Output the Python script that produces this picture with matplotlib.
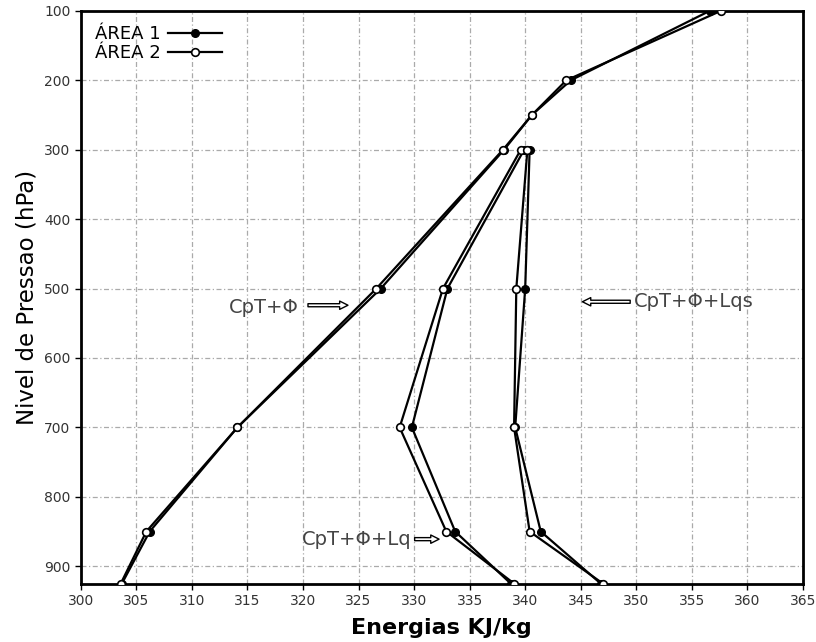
import numpy as np
import matplotlib.pyplot as plt
from matplotlib.lines import Line2D

# Pressure levels (hPa)
levels_full = [100, 200, 250, 300, 500, 700, 850, 925]
levels_q = [300, 500, 700, 850, 925]

# Energies (kJ/kg)
cpt_phi_a1 = [356.6, 344.1, 340.6, 338.1, 327.0, 314.1, 306.2, 303.7]
cpt_phi_a2 = [357.6, 343.7, 340.6, 338.0, 326.6, 314.1, 305.9, 303.6]
lq_a1 = [339.9, 333.0, 329.8, 333.7, 338.7]
lq_a2 = [339.6, 332.6, 328.7, 332.9, 339.0]
lqs_a1 = [340.4, 340.0, 339.1, 341.4, 346.8]
lqs_a2 = [340.2, 339.2, 339.0, 340.4, 347.0]

x_ticks = np.arange(300, 366, 5)
y_ticks = np.arange(100, 901, 100)

fig = plt.figure(figsize=(8.16, 6.42), dpi=100)
ax = fig.add_axes([0.099, 0.091, 0.885, 0.892])

style1 = dict(color='black', lw=1.6, marker='o', ms=5.5, mfc='black', mec='black', zorder=3)
style2 = dict(color='black', lw=1.6, marker='o', ms=5.5, mfc='white', mec='black', mew=1.2, zorder=3)

ax.plot(cpt_phi_a1, levels_full, **style1)
ax.plot(cpt_phi_a2, levels_full, **style2)
ax.plot(lq_a1, levels_q, **style1)
ax.plot(lq_a2, levels_q, **style2)
ax.plot(lqs_a1, levels_q, **style1)
ax.plot(lqs_a2, levels_q, **style2)

ax.set_xlim(300, 365)
ax.set_ylim(925, 100)
ax.set_xticks(x_ticks)
ax.set_yticks(y_ticks)
ax.tick_params(labelsize=10, labelcolor='#333333', direction='out', length=4, width=1)
ax.grid(True, color='#aaaaaa', ls=(0, (4, 2, 1, 2)), lw=0.9)
for s in ax.spines.values():
    s.set_linewidth(2)

ax.set_xlabel('Energias KJ/kg', fontsize=16, fontweight='bold', labelpad=7)
ax.set_ylabel('Nivel de Pressao (hPa)', fontsize=16.5, labelpad=4)

# annotations
afont = dict(fontsize=14, color='#444444', va='center')
arrow = dict(arrowstyle='simple,head_width=0.6,head_length=0.6,tail_width=0.22',
             fc='white', ec='black', lw=1)
ax.text(313.3, 527, 'CpT+Φ', ha='left', **afont)
ax.annotate('', xy=(324.3, 524), xytext=(320.2, 524), arrowprops=arrow)
ax.text(349.8, 519, 'CpT+Φ+Lqs', ha='left', **afont)
ax.annotate('', xy=(344.9, 519), xytext=(349.7, 519), arrowprops=arrow)
ax.text(319.9, 861, 'CpT+Φ+Lq', ha='left', **afont)
ax.annotate('', xy=(332.5, 861), xytext=(329.8, 861), arrowprops=arrow)

handles = [Line2D([], [], **style1), Line2D([], [], **style2)]
ax.legend(handles, ['ÁREA 1', 'ÁREA 2'], loc='upper left', frameon=False,
          markerfirst=False, handlelength=3.0, labelspacing=0.05,
          borderaxespad=0.4, handletextpad=0.4, prop={'size': 13})

fig.savefig('out.png', dpi=100)
